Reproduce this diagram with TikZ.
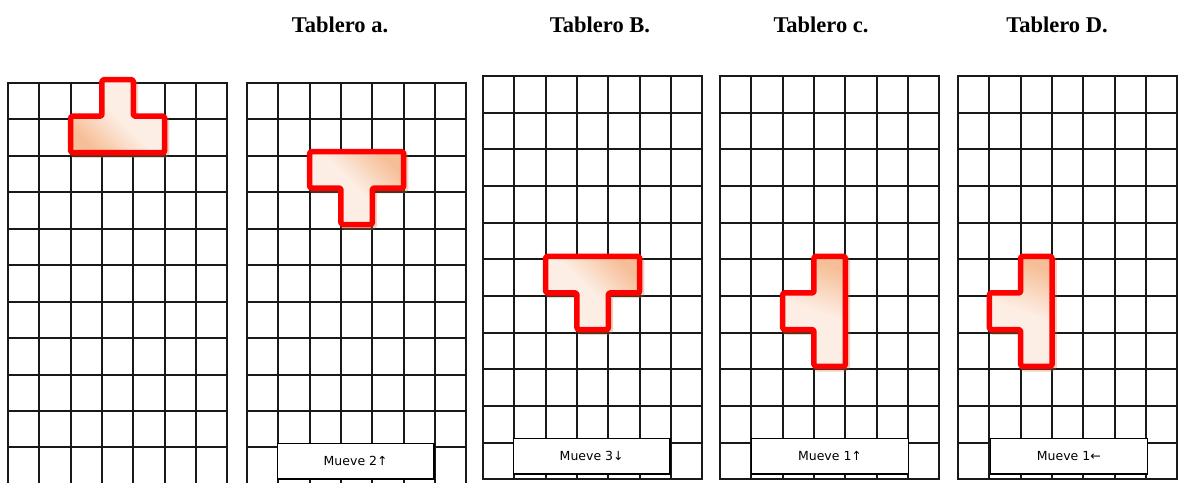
\documentclass[tikz,border=0pt]{standalone}
\usepackage{fontspec}
\setmainfont{Liberation Serif}
\newfontfamily\lblfont{DejaVu Sans}
\definecolor{tdark}{HTML}{F6BE96}
\definecolor{tlight}{HTML}{FDEEE5}
\definecolor{shadowc}{HTML}{C07040}
\tikzset{
  gridln/.style={line width=1.5pt, draw=black!90, line cap=rect},
  tpiece/.style={draw=red, line width=5.5pt, rounded corners=1.5pt, line join=round,
    top color=tdark, bottom color=tlight, middle color=tlight},
  tshadow/.style={draw=shadowc, fill=shadowc, line width=5.5pt, rounded corners=1.5pt,
    line join=round, opacity=0.3},
  movebox/.style={draw=black, fill=white, line width=1.3pt, minimum width=156.7pt,
    minimum height=35.7pt, inner sep=0pt, font=\lblfont\fontsize{12.5}{14}\selectfont},
  ttl/.style={font=\bfseries\fontsize{22.5}{26}\selectfont, anchor=base},
}
\newcommand{\drawboard}[4]{%
  \foreach \i in {0,...,7} \draw[gridln] ({round(#1+\i*31.33)},#2) -- ({round(#1+\i*31.33)},{#2+#3*#4});
  \foreach \j in {0,...,#3} \draw[gridln] (#1,{round(#2+\j*#4)}) -- ({#1+219.3},{round(#2+\j*#4)});
}
\newcommand{\drawpiece}[5]{%
  \begin{scope}[xshift=#1pt, yshift=-#2pt, x=31.33pt, y=-#3pt]
    \draw[tshadow, xshift=2pt, yshift=-2.5pt] #5;
    \draw[tpiece, shading angle=#4] #5;
  \end{scope}}
\begin{document}
\begin{tikzpicture}[x=1pt, y=-1pt]
\useasboundingbox (0,0) rectangle (1178,482);
\fill[white] (0,0) rectangle (1178,482);
\clip (0,0) rectangle (1178,482);
% titles
\node[ttl] (ta) at (340,32) {Tablero a.};
\node[ttl] (tb) at (600,32) {Tablero B.};
\node[ttl] (tc) at (821,32) {Tablero c.};
\node[ttl] (td) at (1057,32) {Tablero D.};
% boards
\drawboard{8}{83}{11}{36.45}
\drawboard{247}{83}{11}{36.45}
\drawboard{483}{76}{11}{36.66}
\drawboard{720}{76}{11}{36.66}
\drawboard{958}{76}{11}{36.66}
% pieces
\drawpiece{8}{79.7}{36.45}{135}{(3,0)--(4,0)--(4,1)--(5,1)--(5,2)--(2,2)--(2,1)--(3,1)--cycle}
\drawpiece{247}{78.7}{36.45}{-45}{(2,2)--(5,2)--(5,3)--(4,3)--(4,4)--(3,4)--(3,3)--(2,3)--cycle}
\drawpiece{483}{73}{36.66}{-45}{(2,5)--(5,5)--(5,6)--(4,6)--(4,7)--(3,7)--(3,6)--(2,6)--cycle}
\drawpiece{720}{73}{36.66}{-20}{(3,5)--(4,5)--(4,8)--(3,8)--(3,7)--(2,7)--(2,6)--(3,6)--cycle}
\drawpiece{958}{73}{36.66}{-20}{(2,5)--(3,5)--(3,8)--(2,8)--(2,7)--(1,7)--(1,6)--(2,6)--cycle}
% move labels
\node[movebox] (m2) at (355.65,461) {Mueve 2↑};
\node[movebox] (m3) at (591.65,456.2) {Mueve 3↓};
\node[movebox] (m4) at (830,456.2) {Mueve 1↑};
\node[movebox] (m5) at (1068.8,456.2) {Mueve 1←};
\end{tikzpicture}
\end{document}
